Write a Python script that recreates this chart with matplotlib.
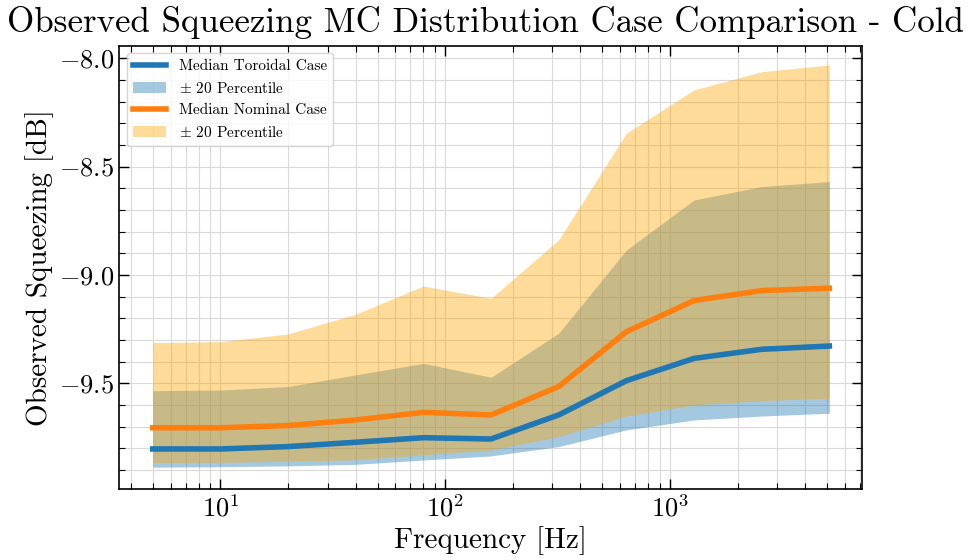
import numpy as np
import matplotlib
matplotlib.use('Agg')
import matplotlib.pyplot as plt

plt.rcParams['font.family'] = 'serif'
plt.rcParams['font.serif'] = ['cmr10']
plt.rcParams['mathtext.fontset'] = 'cm'
plt.rcParams['axes.formatter.use_mathtext'] = True

# frequency points [Hz]
freq = [5, 10, 20, 40, 80, 160, 320, 640, 1280, 2560, 5120]

# toroidal case
tor_median = [-9.803, -9.803, -9.792, -9.772, -9.751, -9.757, -9.646, -9.488, -9.385, -9.343, -9.328]
tor_upper = [-9.534, -9.531, -9.515, -9.461, -9.408, -9.472, -9.269, -8.885, -8.654, -8.592, -8.569]
tor_lower = [-9.887, -9.885, -9.881, -9.874, -9.854, -9.835, -9.792, -9.715, -9.669, -9.651, -9.638]

# nominal case
nom_median = [-9.705, -9.705, -9.695, -9.669, -9.634, -9.646, -9.515, -9.262, -9.118, -9.072, -9.061]
nom_upper = [-9.312, -9.308, -9.272, -9.181, -9.051, -9.108, -8.838, -8.346, -8.146, -8.062, -8.031]
nom_lower = [-9.866, -9.865, -9.860, -9.853, -9.830, -9.808, -9.746, -9.651, -9.600, -9.580, -9.569]

fig = plt.figure(figsize=(9.71, 5.6), dpi=100)
ax = fig.add_axes([0.1226, 0.1263, 0.7648, 0.7921])

l1, = ax.plot(freq, tor_median, color='#1f77b4', lw=4, zorder=3, label='Median Toroidal Case')
f1 = ax.fill_between(freq, tor_lower, tor_upper, color='#1f77b4', alpha=0.4, lw=0,
                     label=r'$\pm$ 20 Percentile')
l2, = ax.plot(freq, nom_median, color='#ff7f0e', lw=4, zorder=3, label='Median Nominal Case')
f2 = ax.fill_between(freq, nom_lower, nom_upper, color='orange', alpha=0.4, lw=0,
                     label=r'$\pm$ 20 Percentile')

ax.set_xscale('log')
ax.set_xlim(3.54, 7130)
ax.set_ylim(-9.989, -7.942)
ax.yaxis.set_major_locator(matplotlib.ticker.MultipleLocator(0.5))
ax.yaxis.set_minor_locator(matplotlib.ticker.MultipleLocator(0.1))
ax.yaxis.set_major_formatter(matplotlib.ticker.FormatStrFormatter('$%.1f$'))

ax.tick_params(which='both', direction='in', top=True, right=True, labelsize=19)
ax.tick_params(which='major', length=7, width=1)
ax.tick_params(which='minor', length=4, width=0.8)
for s in ax.spines.values():
    s.set_linewidth(1.2)

ax.grid(True, which='both', color='#d9d9d9', lw=0.8)
ax.set_axisbelow(True)

fig.suptitle('Observed Squeezing MC Distribution Case Comparison - Cold', fontsize=25.2,
             x=0.5, y=0.99, va='top')
ax.set_xlabel('Frequency [Hz]', fontsize=21)
ax.set_ylabel('Observed Squeezing [dB]', fontsize=21)

ax.legend(handles=[l1, f1, l2, f2], loc='upper left', fontsize=11, fancybox=True,
          framealpha=0.8, borderpad=0.4, handlelength=2.2)

plt.savefig('out.png', dpi=100)
